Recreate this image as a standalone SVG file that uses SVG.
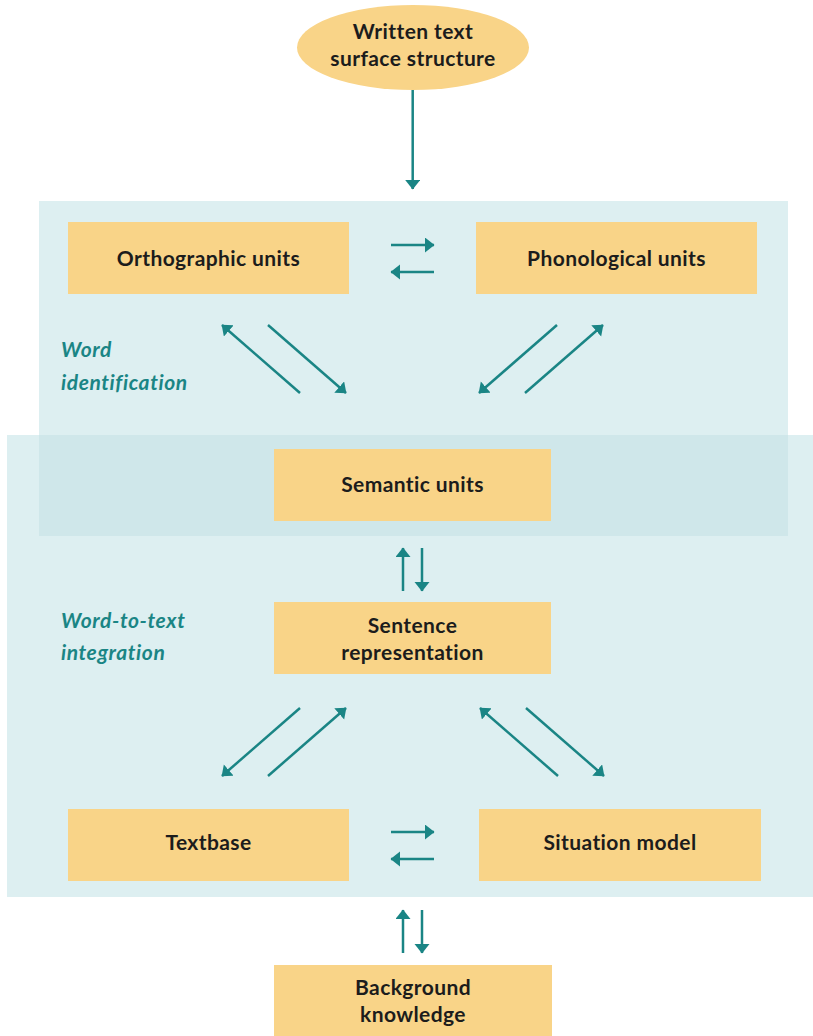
<svg xmlns="http://www.w3.org/2000/svg" width="813" height="1036" viewBox="0 0 813 1036">
<style>
.band{fill:#ddeff1}
.overlap{fill:#cfe7ea}
.box{fill:#f9d488}
.lbl{font-family:Lato,"Liberation Sans",sans-serif;font-weight:700;font-size:21px;letter-spacing:0.4px;fill:#1c1c1c;text-anchor:middle;font-variant-ligatures:none}
.grp{font-family:Lato,"Liberation Sans",sans-serif;font-weight:700;font-style:italic;font-size:21px;letter-spacing:0.6px;fill:#1a8585;font-variant-ligatures:none}
.arr{stroke:#1a8585;stroke-width:2.5;fill:none;marker-end:url(#ah)}
</style>
<defs>
<marker id="ah" markerUnits="userSpaceOnUse" markerWidth="12" markerHeight="18" refX="9" refY="7.5" orient="auto">
<path d="M0,0 L9.5,7.5 L0,15 z" fill="#1a8585"/>
</marker>
</defs>
<rect width="813" height="1036" fill="#ffffff"/>
<g id="bands">
<rect class="band" x="39" y="201" width="749" height="335"/>
<rect class="band" x="7" y="435" width="806" height="462"/>
<rect class="overlap" x="39" y="435" width="749" height="101"/>
<text class="grp" x="61" y="357">Word</text>
<text class="grp" x="61" y="390">identification</text>
<text class="grp" x="61" y="628">Word-to-text</text>
<text class="grp" x="61" y="660">integration</text>
</g>
<g id="connectors">
<line class="arr" x1="412.7" y1="90" x2="412.7" y2="189"/>
<line class="arr" x1="391" y1="245" x2="434" y2="245"/>
<line class="arr" x1="434" y1="272" x2="391" y2="272"/>
<line class="arr" x1="300" y1="393" x2="222" y2="325"/>
<line class="arr" x1="268" y1="325" x2="346" y2="393"/>
<line class="arr" x1="557" y1="325" x2="479" y2="393"/>
<line class="arr" x1="525" y1="393" x2="603" y2="325"/>
<line class="arr" x1="403" y1="591" x2="403" y2="548"/>
<line class="arr" x1="422" y1="548" x2="422" y2="591"/>
<line class="arr" x1="300" y1="708" x2="222" y2="776"/>
<line class="arr" x1="268" y1="776" x2="346" y2="708"/>
<line class="arr" x1="558" y1="776" x2="480" y2="708"/>
<line class="arr" x1="526" y1="708" x2="604" y2="776"/>
<line class="arr" x1="391" y1="832" x2="434" y2="832"/>
<line class="arr" x1="434" y1="859" x2="391" y2="859"/>
<line class="arr" x1="403" y1="953" x2="403" y2="910"/>
<line class="arr" x1="422" y1="910" x2="422" y2="953"/>
</g>
<g id="written-text">
<ellipse class="box" cx="413" cy="47.5" rx="116" ry="42.5"/>
<text class="lbl" x="413" y="39">Written text</text>
<text class="lbl" x="413" y="66">surface structure</text>
</g>
<g id="orthographic">
<rect class="box" x="68" y="222" width="281" height="72"/>
<text class="lbl" x="208.5" y="266">Orthographic units</text>
</g>
<g id="phonological">
<rect class="box" x="476" y="222" width="281" height="72"/>
<text class="lbl" x="616.5" y="266">Phonological units</text>
</g>
<g id="semantic">
<rect class="box" x="274" y="449" width="277" height="72"/>
<text class="lbl" x="412.5" y="492">Semantic units</text>
</g>
<g id="sentence">
<rect class="box" x="274" y="602" width="277" height="72"/>
<text class="lbl" x="412.5" y="633">Sentence</text>
<text class="lbl" x="412.5" y="660">representation</text>
</g>
<g id="textbase">
<rect class="box" x="68" y="809" width="281" height="72"/>
<text class="lbl" x="208.5" y="850">Textbase</text>
</g>
<g id="situation">
<rect class="box" x="479" y="809" width="282" height="72"/>
<text class="lbl" x="620" y="850">Situation model</text>
</g>
<g id="background">
<rect class="box" x="274" y="965" width="278" height="71"/>
<text class="lbl" x="413" y="995">Background</text>
<text class="lbl" x="413" y="1022">knowledge</text>
</g>
</svg>
